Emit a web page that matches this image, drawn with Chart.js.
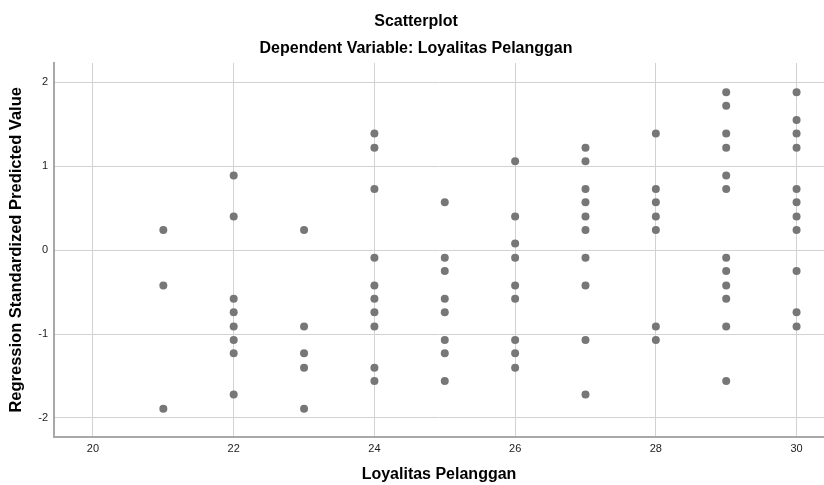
<!DOCTYPE html>
<html>
<head>
<meta charset="utf-8">
<script src="https://cdn.jsdelivr.net/npm/chart.js@4"></script>
<style>
  html, body { margin: 0; padding: 0; background: #fff; }
  #wrap { width: 824px; height: 485px; }
</style>
</head>
<body>
<div id="wrap"><canvas id="chart"></canvas></div>
<script>
// Loyalitas Pelanggan score (x) and the standardized predicted values seen at each score
const scores = [21, 22, 23, 24, 25, 26, 27, 28, 29, 30];
const pred21 = [0.24, -0.42, -1.89];
const pred22 = [0.89, 0.40, -0.58, -0.74, -0.91, -1.07, -1.23, -1.72];
const pred23 = [0.24, -0.91, -1.23, -1.40, -1.89];
const pred24 = [1.39, 1.22, 0.73, -0.09, -0.42, -0.58, -0.74, -0.91, -1.40, -1.56];
const pred25 = [0.57, -0.09, -0.25, -0.58, -0.74, -1.07, -1.23, -1.56];
const pred26 = [1.06, 0.40, 0.08, -0.09, -0.42, -0.58, -1.07, -1.23, -1.40];
const pred27 = [1.22, 1.06, 0.73, 0.57, 0.40, 0.24, -0.09, -0.42, -1.07, -1.72];
const pred28 = [1.39, 0.73, 0.57, 0.40, 0.24, -0.91, -1.07];
const pred29 = [1.88, 1.72, 1.39, 1.22, 0.89, 0.73, -0.09, -0.25, -0.42, -0.58, -0.91, -1.56];
const pred30 = [1.88, 1.55, 1.39, 1.22, 0.73, 0.57, 0.40, 0.24, -0.25, -0.74, -0.91];

const xTicks = [20, 22, 24, 26, 28, 30];
const yTicks = [-2, -1, 0, 1, 2];

const columns = [pred21, pred22, pred23, pred24, pred25, pred26, pred27, pred28, pred29, pred30];
const points = [];
columns.forEach((col, i) => {
  col.forEach(v => points.push({ x: scores[i], y: v }));
});

const font = "'Liberation Sans', Arial, sans-serif";

new Chart(document.getElementById("chart").getContext("2d"), {
  type: "scatter",
  data: {
    datasets: [
      {
        data: points,
        backgroundColor: "#777777",
        borderWidth: 0,
        pointRadius: 4,
        pointHoverRadius: 4
      }
    ]
  },
  options: {
    responsive: true,
    maintainAspectRatio: false,
    animation: false,
    events: [],
    layout: { autoPadding: false, padding: { left: 8, right: 0, top: 0, bottom: 0 } },
    plugins: {
      legend: { display: false },
      tooltip: { enabled: false },
      title: {
        display: true,
        text: "Scatterplot",
        color: "#000",
        font: { family: font, size: 16, weight: "bold", lineHeight: 1.2 },
        padding: { top: 12.4, bottom: 0 }
      },
      subtitle: {
        display: true,
        text: "Dependent Variable: Loyalitas Pelanggan",
        color: "#000",
        font: { family: font, size: 16, weight: "bold", lineHeight: 1.2 },
        padding: { top: 7.8, bottom: 4.4 }
      }
    },
    scales: {
      x: {
        type: "linear",
        min: 19.446,
        max: 30.39,
        afterBuildTicks: (scale) => { scale.ticks = xTicks.map(v => ({ value: v })); },
        afterFit: (scale) => { scale.height = 48.3; },
        ticks: {
          color: "#222",
          font: { family: font, size: 11 },
          padding: 5.2,
          maxRotation: 0,
          autoSkip: false
        },
        grid: { color: "#d2d2d2", lineWidth: 1, drawTicks: false },
        border: { color: "#a8a8a8", width: 2 },
        title: {
          display: true,
          text: "Loyalitas Pelanggan",
          color: "#000",
          font: { family: font, size: 16, weight: "bold", lineHeight: 1.2 },
          padding: { top: 0, bottom: 0.8 }
        }
      },
      y: {
        type: "linear",
        min: -2.223,
        max: 2.23,
        afterBuildTicks: (scale) => { scale.ticks = yTicks.map(v => ({ value: v })); },
        afterFit: (scale) => { scale.width = 46; },
        ticks: {
          color: "#222",
          font: { family: font, size: 11 },
          padding: 6
        },
        grid: { color: "#d2d2d2", lineWidth: 1, drawTicks: false },
        border: { color: "#a8a8a8", width: 2 },
        title: {
          display: true,
          text: "Regression Standardized Predicted Value",
          color: "#000",
          font: { family: font, size: 16.5, weight: "bold", lineHeight: 1 },
          padding: { top: 0, bottom: 0 }
        }
      }
    }
  }
});
</script>
</body>
</html>
